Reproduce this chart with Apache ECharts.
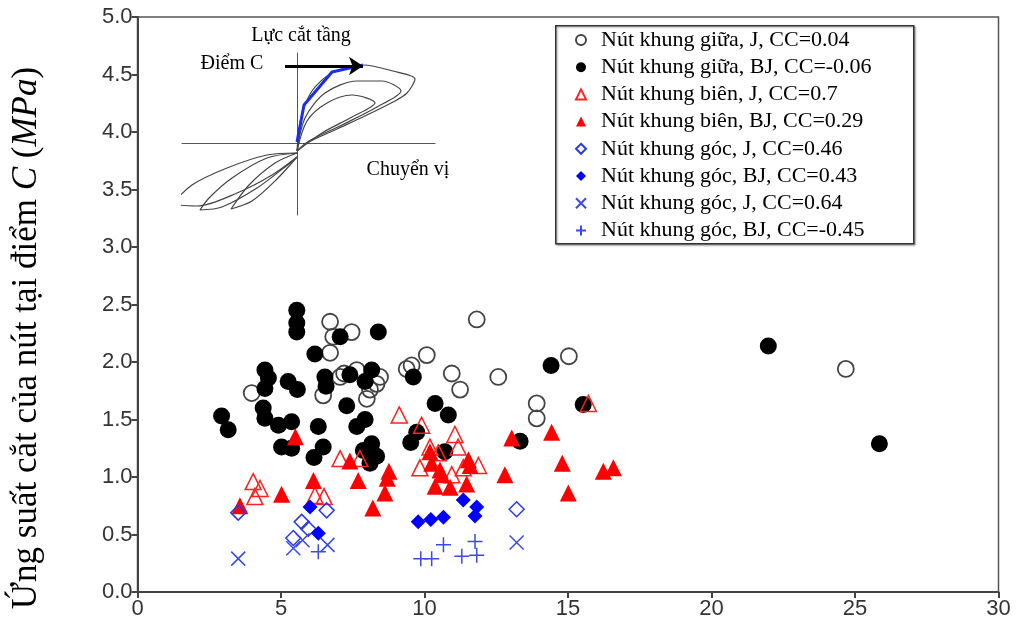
<!DOCTYPE html>
<html>
<head>
<meta charset="utf-8">
<script src="https://cdn.jsdelivr.net/npm/echarts@6/dist/echarts.min.js"></script>
<style>
  html, body { margin: 0; padding: 0; background: #fff; }
  #main { width: 1025px; height: 635px; }
</style>
</head>
<body>
<div id="main"></div>
<script>
// nút khung giữa
var giuaJ = [[3.98,1.73],[6.47,1.71],[6.71,2.35],[6.82,2.22],[6.71,2.08],[7.06,1.87],[7.2,1.9],[7.46,2.26],
  [7.64,1.93],[7.99,1.68],[8.1,1.76],[8.33,1.81],[8.45,1.87],[9.38,1.94],[9.55,1.97],[10.08,2.06],[10.95,1.9],
  [11.24,1.76],[11.82,2.37],[12.57,1.87],[13.91,1.64],[13.91,1.51],[15.03,2.05],[24.68,1.94]]
var giuaBJ = [[2.93,1.53],[3.16,1.41],[4.38,1.6],[4.44,1.51],[4.44,1.93],[4.56,1.86],[4.44,1.77],[4.91,1.45],
  [5.02,1.26],[5.25,1.83],[5.37,1.48],[5.37,1.25],[5.55,2.45],[5.55,2.34],[5.55,2.26],[5.57,1.76],[6.18,2.07],
  [6.3,1.44],[6.47,1.26],[6.15,1.17],[6.53,1.87],[6.57,1.79],[7.06,2.22],[7.29,1.62],[7.4,1.89],[7.64,1.44],
  [7.87,1.23],[7.93,1.5],[7.93,1.83],[8.1,1.12],[8.33,1.18],[8.16,1.29],[8.16,1.93],[8.39,2.26],[9.52,1.3],
  [9.61,1.87],[9.73,1.39],[10.37,1.64],[10.71,1.22],[10.83,1.54],[13.33,1.31],[14.41,1.97],[15.53,1.63],
  [21.98,2.14],[25.85,1.29]]
// nút khung biên
var bienJ = [[4.03,0.96],[4.27,0.9],[4.09,0.83],[6.18,0.84],[6.5,0.83],[7.06,1.16],[7.75,1.16],[9.12,1.54],
  [9.9,1.45],[9.84,1.08],[10.19,1.26],[10.48,1.21],[10.95,1.02],[11.06,1.37],[11.17,1.26],[11.35,1.08],
  [11.88,1.1],[15.71,1.64]]
var bienBJ = [[3.57,0.75],[5.02,0.85],[5.5,1.35],[6.13,0.97],[7.4,1.14],[7.69,0.97],[8.2,0.73],[8.62,0.86],
  [8.7,0.99],[8.76,1.05],[10.19,1.22],[10.25,1.12],[10.37,0.92],[10.54,1.06],[10.6,1.02],[10.89,0.91],
  [11.47,0.94],[11.53,1.15],[11.59,1.1],[12.8,1.02],[13.04,1.34],[14.43,1.39],[14.8,1.12],[15.01,0.86],
  [16.23,1.05],[16.58,1.08]]
// nút khung góc
var gocJ1 = [[3.51,0.69],[5.43,0.47],[5.72,0.61],[5.95,0.55],[6.59,0.71],[13.21,0.72]]
var gocBJ1 = [[6.01,0.74],[6.3,0.51],[9.78,0.61],[10.22,0.63],[10.66,0.65],[11.35,0.8],[11.82,0.74],[11.76,0.66]]
var gocJ2 = [[3.51,0.29],[5.43,0.38],[5.75,0.45],[6.62,0.41],[13.21,0.43]]
var gocBJ2 = [[6.3,0.35],[9.87,0.29],[10.25,0.29],[10.66,0.41],[11.3,0.31],[11.82,0.32],[11.76,0.44]]

var names = ['Nút khung giữa, J, CC=0.04', 'Nút khung giữa, BJ, CC=-0.06', 'Nút khung biên, J, CC=0.7',
  'Nút khung biên, BJ, CC=0.29', 'Nút khung góc, J, CC=0.46', 'Nút khung góc, BJ, CC=0.43',
  'Nút khung góc, J, CC=0.64', 'Nút khung góc, BJ, CC=-0.45']

// hình nhỏ: vòng trễ (đơn vị px so với gốc)
var loopR1 = [[0,-8],[4,25],[15,52],[35,70],[66,78],[96,72],[118,64],[110,50],[96,41],[70,28],[40,14],[10,0],[0,-8]]
var loopR2 = [[0,-8],[8,25],[28,50],[60,62],[85,62],[104,52],[80,36],[45,18],[12,2],[0,-8]]
var loopR3 = [[0,-8],[10,22],[30,40],[55,48],[78,40],[55,26],[25,10],[0,-8]]
var loopL1 = [[0,-10],[-30,-12],[-70,-25],[-105,-42],[-122,-60],[-100,-63],[-60,-50],[-25,-32],[0,-14]]
var loopL2 = [[0,-10],[-30,-15],[-65,-35],[-88,-55],[-97,-67],[-75,-64],[-40,-45],[-12,-24],[0,-14]]
var loopL3 = [[0,-10],[-22,-20],[-48,-42],[-66,-66],[-45,-58],[-20,-36],[0,-14]]
var bluePath = [[0,1],[7,38],[35,71],[66,78]]
var arrowLine = [[-12,77],[66,77]]

var chart = echarts.init(document.getElementById('main'))
var serif = 'Liberation Serif'
var sans = 'Liberation Sans'

function pts(name, data, symbol, size, style, z) {
  style.opacity = 1
  return {
    name: name, type: 'scatter', data: data, symbol: symbol, symbolSize: size,
    itemStyle: style, z: z, xAxisIndex: 0, yAxisIndex: 0
  }
}

function loop(data) {
  return {
    type: 'line', data: data, xAxisIndex: 1, yAxisIndex: 1, smooth: 0.3, symbol: 'none',
    lineStyle: { color: '#444', width: 1.2 }, silent: true, z: 1
  }
}

var option = {
  animation: false,
  backgroundColor: '#fff',
  grid: [
    { left: 137.5, right: 26.5, top: 17, bottom: 43, show: true, borderColor: '#555', borderWidth: 1.5 },
    { left: 182, right: 590, top: 53, bottom: 420 }
  ],
  xAxis: [
    {
      type: 'value', min: 0, max: 30, interval: 5, gridIndex: 0,
      axisLine: { lineStyle: { color: '#444', width: 2 } },
      axisTick: { length: 6, lineStyle: { color: '#444', width: 2 } },
      axisLabel: { fontFamily: sans, fontSize: 22, color: '#333', margin: 6 },
      splitLine: { show: false }
    },
    {
      type: 'value', min: -115, max: 138, gridIndex: 1,
      axisLine: { onZero: true, lineStyle: { color: '#555', width: 1 } },
      axisTick: { show: false }, axisLabel: { show: false }, splitLine: { show: false }
    }
  ],
  yAxis: [
    {
      type: 'value', min: 0, max: 5, interval: 0.5, gridIndex: 0,
      axisLine: { lineStyle: { color: '#444', width: 2 } },
      axisTick: { length: 6, lineStyle: { color: '#444', width: 2 } },
      axisLabel: { fontFamily: sans, fontSize: 22, color: '#333', margin: 5,
        formatter: function (v) { return v.toFixed(1) } },
      splitLine: { show: false }
    },
    {
      type: 'value', min: -72, max: 90, gridIndex: 1,
      axisLine: { onZero: true, lineStyle: { color: '#555', width: 1 } },
      axisTick: { show: false }, axisLabel: { show: false }, splitLine: { show: false }
    }
  ],
  legend: {
    data: names, orient: 'vertical', left: 575, top: 29, padding: 0,
    itemWidth: 10, itemHeight: 10, itemGap: 5.2,
    textStyle: { fontFamily: serif, fontSize: 22, color: '#000', lineHeight: 22, padding: [0, 0, 0, 10] }
  },
  graphic: [
    {
      type: 'rect', left: 555, top: 25, z: 0,
      shape: { width: 358, height: 218 },
      style: { fill: '#fff', stroke: '#333', lineWidth: 1.5, shadowColor: 'rgba(0,0,0,0.35)', shadowBlur: 2, shadowOffsetX: 1, shadowOffsetY: 1 }
    },
    {
      type: 'text', x: 27, y: 338, rotation: Math.PI / 2,
      style: {
        text: 'Ứng suất cắt của nút tại điểm {i|C} ({i|MPa})',
        fontFamily: serif, fontSize: 35, fill: '#000', align: 'center', verticalAlign: 'middle',
        rich: { i: { fontFamily: serif, fontSize: 35, fontStyle: 'italic', fill: '#000' } }
      }
    },
    { type: 'text', x: 301, y: 36, style: { text: 'Lực cắt tầng', fontFamily: serif, fontSize: 20, fill: '#000', align: 'center', verticalAlign: 'middle' } },
    { type: 'text', x: 232, y: 64, style: { text: 'Điểm C', fontFamily: serif, fontSize: 20, fill: '#000', align: 'center', verticalAlign: 'middle' } },
    { type: 'text', x: 408, y: 170, style: { text: 'Chuyển vị', fontFamily: serif, fontSize: 20, fill: '#000', align: 'center', verticalAlign: 'middle' } }
  ],
  series: [
    loop(loopR1), loop(loopR2), loop(loopR3),
    loop(loopL1), loop(loopL2), loop(loopL3),
    {
      type: 'line', data: bluePath, xAxisIndex: 1, yAxisIndex: 1, symbol: 'none',
      lineStyle: { color: '#1a2ee8', width: 3 }, silent: true, z: 2
    },
    {
      type: 'lines', coordinateSystem: 'cartesian2d', xAxisIndex: 1, yAxisIndex: 1,
      symbol: ['none', 'arrow'], symbolSize: 14, silent: true, z: 3,
      lineStyle: { color: '#000', width: 3, opacity: 1 },
      data: [{ coords: arrowLine }]
    },
    pts(names[0], giuaJ, 'circle', 16, { color: 'rgba(0,0,0,0)', borderColor: '#444', borderWidth: 1.8 }, 2),
    pts(names[1], giuaBJ, 'circle', 17, { color: '#000' }, 3),
    pts(names[2], bienJ, 'triangle', 16, { color: 'rgba(0,0,0,0)', borderColor: '#ff2020', borderWidth: 1.5 }, 4),
    pts(names[3], bienBJ, 'triangle', 17, { color: '#ff0000' }, 5),
    pts(names[4], gocJ1, 'diamond', 15, { color: 'rgba(0,0,0,0)', borderColor: '#2a3ae8', borderWidth: 1.5 }, 6),
    pts(names[5], gocBJ1, 'diamond', 15, { color: '#0000ff' }, 7),
    pts(names[6], gocJ2, 'path://M0,0L10,10M10,0L0,10', 14, { color: 'rgba(0,0,0,0)', borderColor: '#3a4ae8', borderWidth: 1.5 }, 8),
    pts(names[7], gocBJ2, 'path://M5,0L5,10M0,5L10,5', 15, { color: 'rgba(0,0,0,0)', borderColor: '#3a4ae8', borderWidth: 1.5 }, 9)
  ]
}

chart.setOption(option)
</script>
</body>
</html>
